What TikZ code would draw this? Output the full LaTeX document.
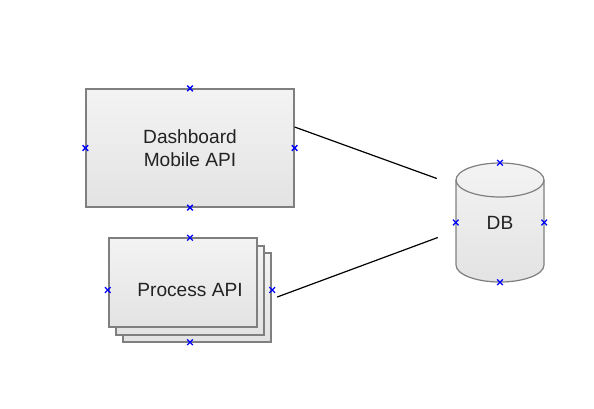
\documentclass[tikz,border=0pt]{standalone}
\usepackage{fontspec}
\setmainfont{Liberation Sans}
\begin{document}
\begin{tikzpicture}[x=1bp,y=1bp,
  shapebox/.style={draw=boxline, line width=1.2bp, top color=topfill, bottom color=botfill},
  lbl/.style={text=txt, font=\fontsize{19.2}{23}\selectfont, align=center, inner sep=0pt},
  conn/.style={draw=black, line width=1.2bp},
  xmark/.pic={\draw[blue, line width=1.3bp] (-2.8,-2.8)--(2.8,2.8) (-2.8,2.8)--(2.8,-2.8);}
]
\definecolor{boxline}{HTML}{7F7F7F}
\definecolor{topfill}{HTML}{F3F3F3}
\definecolor{botfill}{HTML}{E3E3E3}
\definecolor{txt}{HTML}{222222}
\useasboundingbox (0,0) rectangle (594,408);

% Dashboard
\node[shapebox, lbl, minimum width=208bp, minimum height=118bp] (dash) at (190,260) {Dashboard\\Mobile API};

% Process API stack
\path[shapebox] (123,66) rectangle (271,155);
\path[shapebox] (116,73) rectangle (264,162);
\path[shapebox] (109,81) rectangle (257,170);
\node[lbl, minimum width=164bp, minimum height=104bp] (proc) at (190,118) {Process API};

% DB cylinder
\path[shapebox] (456,228) -- (456,143) arc[start angle=180, end angle=360, x radius=44, y radius=17]
  -- (544,228) arc[start angle=0, end angle=180, x radius=44, y radius=17] -- cycle;
\draw[boxline, line width=1.2bp] (456,228) arc[start angle=180, end angle=360, x radius=44, y radius=17];
\node[lbl, minimum width=88bp, minimum height=119bp] (db) at (500,185.5) {DB};

% connectors
\coordinate (c1) at ([yshift=21bp]dash.east);
\coordinate (c2) at ([xshift=-19bp,yshift=44bp]db.west);
\coordinate (c3) at ([xshift=5bp,yshift=-7bp]proc.east);
\coordinate (c4) at ([xshift=-18bp,yshift=-15bp]db.west);
\draw[conn] (c1) -- (c2);
\draw[conn] (c3) -- (c4);

% markers
\foreach \n in {dash,proc,db}{
  \foreach \a in {north,south,east,west}{
    \pic at (\n.\a) {xmark};
  }
}
\end{tikzpicture}
\end{document}
